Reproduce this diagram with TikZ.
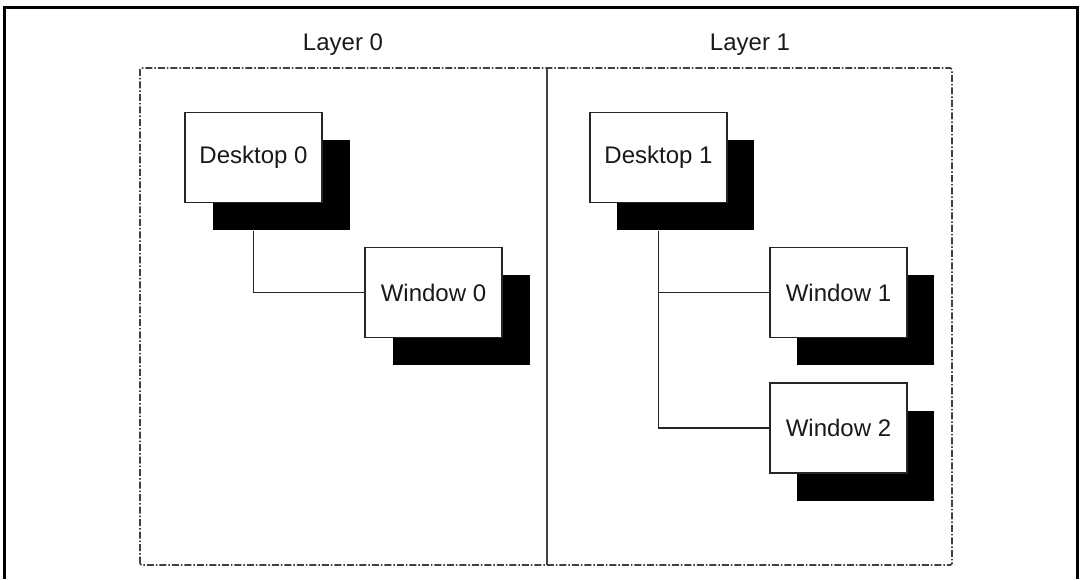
\documentclass[tikz,border=0pt]{standalone}
\usepackage{fontspec}
\setmainfont{Liberation Sans}
\begin{document}
\begin{tikzpicture}[x=1pt,y=1pt,
  winbox/.style={draw=black!85,line width=1.2pt,fill=white,minimum width=137pt,minimum height=90pt,inner sep=0pt,
    font=\fontsize{24}{27}\selectfont,text=black!90},
  shadowbox/.style={fill=black,minimum width=137pt,minimum height=90pt,inner sep=0pt},
  layerlabel/.style={font=\fontsize{24}{27}\selectfont,text=black!90,inner sep=0pt},
  conn/.style={draw=black!85,line width=1.2pt},
  layerframe/.style={draw=black!75,line width=1.7pt,dash pattern=on 7pt off 2pt on 1.5pt off 2pt,rounded corners=1.5pt},
  outerframe/.style={draw=black,line width=3pt}]
\useasboundingbox (0,0) rectangle (1082,579);
% outer frame (continues below the picture)
\draw[outerframe] (4.5,0) -- (4.5,571) -- (1077.5,571) -- (1077.5,0);
% layer labels
\node[layerlabel] (l0) at (343,534) {Layer 0};
\node[layerlabel] (l1) at (750,534) {Layer 1};
% layer frames
\draw[layerframe] (140,14) rectangle (952,511);
\draw[draw=black!75,line width=1.4pt] (547,511) -- (547,14);
% shadows
\node[shadowbox] (d0s) at (281,393.5) {};
\node[shadowbox] (w0s) at (461,258.5) {};
\node[shadowbox] (d1s) at (685.5,393.5) {};
\node[shadowbox] (w1s) at (865.5,258.5) {};
\node[shadowbox] (w2s) at (865.5,123) {};
% boxes
\node[winbox] (d0) at (253.5,421.5) {Desktop 0};
\node[winbox] (w0) at (433.5,286.5) {Window 0};
\node[winbox] (d1) at (658.5,421.5) {Desktop 1};
\node[winbox] (w1) at (838.5,286.5) {Window 1};
\node[winbox] (w2) at (838.5,151) {Window 2};
% connectors
\draw[conn] (d0s.south -| d0.center) |- (w0.west);
\draw[conn] (d1s.south -| d1.center) |- (w2.west);
\draw[conn] (w1.west) -- (w1.west -| d1.center);
\end{tikzpicture}
\end{document}
